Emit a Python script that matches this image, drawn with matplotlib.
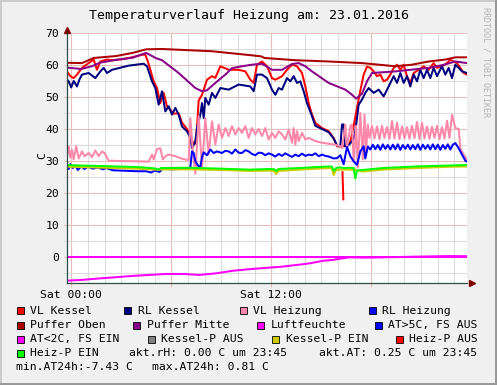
import matplotlib
matplotlib.use("Agg")
import matplotlib.pyplot as plt
from matplotlib.patches import Rectangle

W, H = 497, 385

# hours since Sat 00:00 (window 22.01 23:45 .. 23.01 23:45)
t_vl_kessel = [
    -0.25, -0.05, 0.15, 0.35, 0.65, 1.05, 1.35, 1.55, 1.75, 2.15,
    2.45, 3.05, 3.65, 4.25, 4.45, 4.6, 4.75, 4.95, 5.15, 5.35,
    5.55, 5.75, 5.95, 6.15, 6.45, 6.65, 6.95, 7.15, 7.3, 7.45,
    7.55, 7.65, 7.85, 8.15, 8.45, 8.65, 8.95, 9.45, 10.05, 10.45,
    10.75, 10.95, 11.15, 11.45, 11.75, 12.05, 12.25, 12.65, 12.95, 13.25,
    13.55, 13.85, 14.05, 14.25, 14.45, 14.65, 15.05, 15.45, 15.75, 15.95,
    16.25, 16.55, 16.75, 16.95, 17.15, 17.35, 17.55, 17.75, 17.95, 18.15,
    18.35, 18.55, 18.75, 18.95, 19.15, 19.35, 19.55, 19.75, 19.95, 20.15,
    20.35, 20.55, 20.85, 21.15, 21.45, 21.75, 21.95, 22.25, 22.55, 22.75,
    22.95, 23.15, 23.35, 23.55, 23.75]
vl_kessel = [
    58.0, 56.5, 55.9, 57.0, 59.1, 60.6, 61.7, 58.5, 61.1, 61.7,
    61.5, 61.8, 62.4, 63.2, 63.2, 61.1, 58.5, 54.9, 52.8, 48.1,
    51.3, 47.1, 46.0, 44.8, 44.9, 42.0, 40.0, 38.0, 35.8, 35.4,
    40.3, 48.9, 50.7, 55.4, 56.5, 56.0, 59.6, 58.5, 58.5, 58.0,
    55.4, 54.4, 60.1, 61.1, 59.6, 55.9, 55.4, 56.5, 58.5, 60.1,
    59.6, 57.5, 53.3, 48.1, 44.5, 41.9, 40.3, 39.3, 37.2, 34.6,
    34.6, 34.7, 36.0, 41.0, 46.6, 52.0, 57.0, 59.5, 59.1, 58.0,
    56.5, 57.0, 54.9, 55.4, 57.0, 59.1, 60.1, 58.5, 60.1, 56.5,
    54.4, 57.5, 58.5, 59.6, 58.5, 60.6, 59.1, 59.6, 60.6, 61.7,
    61.1, 60.6, 59.1, 57.5, 57.0]

t_rl_kessel = [
    -0.25, -0.15, 0.0, 0.15, 0.35, 0.5, 0.65, 1.05, 1.45, 1.75,
    1.95, 2.15, 2.45, 3.45, 4.35, 4.55, 4.85, 5.05, 5.25, 5.45,
    5.65, 5.85, 6.05, 6.25, 6.45, 6.65, 6.95, 7.15, 7.25, 7.45,
    7.55, 7.65, 7.75, 7.85, 7.95, 8.05, 8.25, 8.45, 8.65, 8.95,
    9.45, 10.05, 10.75, 10.95, 11.15, 11.45, 11.75, 12.05, 12.25, 12.45,
    12.65, 12.95, 13.15, 13.35, 13.55, 13.75, 13.95, 14.15, 14.45, 14.65,
    15.05, 15.45, 15.75, 15.95, 16.15, 16.25, 16.35, 16.42, 16.55, 16.75,
    16.95, 17.05, 17.25, 17.45, 17.65, 17.85, 18.15, 18.45, 18.75, 19.05,
    19.35, 19.55, 19.75, 19.95, 20.15, 20.35, 20.55, 20.75, 20.95, 21.15,
    21.35, 21.55, 21.75, 21.95, 22.25, 22.45, 22.65, 22.85, 23.05, 23.25,
    23.45, 23.75]
rl_kessel = [
    55.5, 54.9, 53.0, 55.0, 53.3, 55.5, 57.0, 57.5, 55.9, 58.0,
    59.1, 57.5, 58.5, 59.8, 60.4, 59.6, 54.9, 52.8, 47.6, 51.8,
    45.5, 47.1, 44.5, 46.6, 44.5, 40.8, 39.3, 37.2, 34.0, 36.1,
    40.3, 42.4, 44.5, 48.1, 43.4, 49.7, 47.6, 51.3, 49.7, 52.8,
    52.3, 53.9, 53.3, 51.8, 57.0, 57.0, 55.9, 52.3, 50.7, 52.8,
    52.3, 55.9, 54.9, 56.5, 54.4, 54.9, 51.8, 48.1, 44.0, 41.0,
    40.0, 39.0, 37.0, 34.9, 34.5, 41.4, 41.4, 34.6, 34.6, 35.5,
    37.0, 39.3, 47.6, 49.2, 51.3, 52.8, 51.3, 52.3, 50.2, 53.3,
    56.5, 54.4, 57.5, 54.4, 56.5, 53.3, 57.0, 54.9, 58.5, 55.9,
    58.5, 55.9, 59.1, 56.5, 59.6, 57.0, 59.1, 55.9, 60.1, 59.1,
    58.0, 57.5]

t_vl_heizung = [
    -0.25, -0.15, -0.05, 0.05, 0.15, 0.3, 0.45, 0.65, 0.8, 1.05,
    1.25, 1.45, 1.65, 1.85, 2.0, 2.25, 3.0, 4.0, 4.65, 4.85,
    4.95, 5.15, 5.35, 5.5, 5.65, 5.85, 6.25, 6.65, 7.05, 7.15,
    7.3, 7.45, 7.65, 7.85, 8.05, 8.25, 8.45, 8.65, 8.85, 9.05,
    9.25, 9.45, 9.65, 9.85, 10.05, 10.25, 10.45, 10.65, 10.85, 11.05,
    11.25, 11.45, 11.65, 11.85, 12.05, 12.25, 12.45, 12.65, 12.85, 13.05,
    13.25, 13.35, 13.45, 13.55, 13.65, 13.85, 14.05, 14.25, 14.65, 15.05,
    15.45, 15.85, 16.15, 16.25, 16.45, 16.55, 16.75, 16.85, 16.95, 17.1,
    17.2, 17.35, 17.5, 17.6, 17.7, 17.8, 17.9, 18.05, 18.2, 18.35,
    18.5, 18.65, 18.8, 18.95, 19.1, 19.25, 19.4, 19.55, 19.7, 19.85,
    20.0, 20.15, 20.3, 20.45, 20.6, 20.75, 20.9, 21.05, 21.2, 21.35,
    21.5, 21.65, 21.8, 21.95, 22.1, 22.25, 22.4, 22.55, 22.7, 22.85,
    23.05, 23.25, 23.35, 23.55, 23.75]
vl_heizung = [
    31.5, 34.6, 31.0, 33.5, 30.5, 34.6, 30.8, 33.0, 31.5, 32.5,
    31.2, 33.3, 31.5, 33.0, 32.5, 30.1, 30.0, 29.9, 29.8, 32.0,
    30.5, 33.7, 34.0, 30.5, 31.5, 32.0, 31.5, 30.7, 30.3, 43.4,
    33.0, 26.0, 44.0, 27.8, 43.4, 32.0, 42.4, 35.1, 41.4, 37.2,
    40.3, 37.8, 40.9, 38.3, 40.3, 38.8, 40.9, 37.2, 40.3, 38.3,
    40.0, 37.8, 40.3, 36.7, 38.8, 37.2, 39.3, 38.3, 36.7, 39.8,
    35.7, 40.3, 35.1, 39.3, 36.2, 38.8, 36.7, 37.2, 36.2, 35.7,
    35.4, 35.1, 34.6, 34.0, 41.4, 34.0, 40.9, 41.4, 30.0, 41.0,
    28.0, 45.0, 30.5, 44.5, 33.0, 41.4, 37.2, 40.9, 37.0, 40.8,
    36.8, 41.0, 37.2, 40.6, 36.9, 42.5, 37.0, 42.0, 36.8, 40.8,
    37.0, 40.6, 36.9, 41.0, 37.1, 42.2, 36.8, 42.0, 37.0, 40.8,
    36.9, 40.7, 37.2, 41.0, 36.8, 40.6, 37.0, 42.6, 37.2, 44.5,
    40.3, 40.0, 34.0, 32.0, 30.5]

t_rl_heizung = [
    -0.25, -0.15, -0.05, 0.1, 0.25, 0.4, 0.6, 0.8, 1.0, 1.3,
    1.6, 1.9, 2.1, 2.5, 3.0, 3.5, 4.0, 4.5, 4.8, 5.0,
    5.3, 5.5, 6.0, 6.5, 7.0, 7.15, 7.25, 7.35, 7.45, 7.65,
    7.75, 7.85, 7.95, 8.15, 8.35, 8.55, 8.75, 9.05, 9.25, 9.45,
    9.65, 9.85, 10.05, 10.25, 10.45, 10.65, 10.85, 11.05, 11.25, 11.45,
    11.65, 11.85, 12.05, 12.25, 12.45, 12.65, 12.85, 13.05, 13.25, 13.45,
    13.65, 13.85, 14.05, 14.25, 14.45, 14.65, 14.85, 15.05, 15.25, 15.45,
    15.75, 15.95, 16.15, 16.35, 16.55, 16.75, 16.95, 17.15, 17.35, 17.55,
    17.65, 17.8, 17.95, 18.1, 18.25, 18.4, 18.55, 18.7, 18.85, 19.0,
    19.15, 19.3, 19.45, 19.6, 19.75, 19.9, 20.05, 20.2, 20.35, 20.5,
    20.65, 20.8, 20.95, 21.1, 21.25, 21.4, 21.55, 21.7, 21.85, 22.0,
    22.15, 22.3, 22.45, 22.6, 22.75, 22.9, 23.05, 23.25, 23.45, 23.65,
    23.75]
rl_heizung = [
    28.5, 27.5, 29.0, 27.8, 28.6, 27.2, 28.3, 27.5, 28.2, 27.6,
    28.0, 27.4, 27.8, 27.1, 27.0, 26.9, 26.8, 26.8, 26.4, 27.0,
    26.6, 27.6, 27.4, 27.5, 27.6, 28.0, 33.0, 32.5, 29.9, 28.3,
    28.2, 31.2, 32.7, 31.8, 33.6, 32.5, 33.0, 32.5, 33.2, 33.0,
    32.3, 33.6, 32.6, 32.5, 33.4, 33.0, 32.2, 31.8, 32.6, 32.5,
    31.8, 32.4, 32.0, 31.4, 32.2, 31.6, 32.4, 31.8, 31.3, 32.0,
    31.5, 32.3, 31.6, 32.0, 31.8, 32.4, 31.5, 32.0, 31.6, 31.4,
    30.8, 30.9, 31.8, 29.0, 34.4, 31.5, 29.9, 28.8, 33.0, 34.6,
    30.8, 34.5, 33.6, 35.1, 33.7, 35.0, 33.5, 35.2, 33.8, 35.0,
    33.6, 35.1, 33.7, 35.2, 33.5, 35.0, 33.8, 35.1, 33.6, 35.0,
    33.7, 35.2, 33.5, 35.1, 33.8, 35.0, 33.6, 35.2, 33.7, 35.1,
    33.5, 35.0, 33.8, 35.2, 33.6, 35.1, 35.6, 34.0, 32.0, 30.1,
    29.8]

t_puffer_oben = [-0.25, 0.65, 1.35, 2.7, 3.7, 4.5, 5.45, 8.45, 10.7, 11.4,
                 11.6, 13.45, 15.45, 17.45, 19.45, 20.45, 21.45, 22.45, 23.05, 23.75]
puffer_oben = [60.7, 60.6, 62.2, 62.8, 63.8, 64.9, 65.0, 64.3, 63.1, 62.7,
               62.2, 61.5, 61.1, 60.6, 59.6, 60.1, 61.1, 61.7, 62.4, 62.4]

t_puffer_mitte = [-0.25, 0.6, 1.3, 1.7, 2.7, 3.7, 4.5, 5.1, 5.45, 6.45,
                  7.45, 7.85, 8.15, 8.65, 9.25, 9.65, 10.25, 10.85, 11.45, 12.05,
                  12.65, 13.25, 13.65, 14.05, 14.45, 15.45, 16.45, 16.85, 17.1, 17.45,
                  17.75, 18.05, 19.45, 20.7, 21.45, 22.3, 23.05, 23.75]
puffer_mitte = [59.2, 58.75, 59.7, 60.7, 61.6, 62.3, 63.8, 62.1, 61.5, 57.5,
                52.8, 51.8, 52.1, 54.4, 57.0, 59.0, 59.6, 60.1, 60.4, 58.5,
                58.5, 60.3, 60.6, 59.6, 58.0, 54.4, 52.3, 50.7, 49.5, 51.0,
                54.9, 57.5, 58.0, 58.7, 59.1, 60.0, 61.1, 60.6]

t_luftfeuchte = [-0.25, 23.75]
luftfeuchte = [0.0, 0.0]

t_aussen = [-0.25, 0.5, 1.7, 2.7, 3.7, 4.7, 5.7, 6.7, 7.7, 8.7,
            9.7, 10.7, 11.7, 12.7, 13.5, 14.3, 15.1, 15.7, 16.3, 16.7,
            17.7, 18.7, 19.7, 20.7, 21.7, 22.7, 23.75]
aussen = [-7.4, -7.2, -6.7, -6.3, -5.9, -5.6, -5.3, -5.3, -5.6, -5.1,
          -4.3, -3.8, -3.4, -3.0, -2.5, -2.0, -1.2, -0.9, -0.4, -0.1,
          -0.2, -0.1, 0.0, 0.1, 0.2, 0.3, 0.25]

t_kesselp_ein = [-0.25, 2.0, 4.0, 5.0, 7.0, 9.0, 10.7, 11.9, 12.2, 12.3,
                 12.45, 13.7, 14.7, 15.5, 15.65, 15.75, 15.9, 16.2, 17.0, 17.5,
                 18.7, 20.7, 22.7, 23.75]
kesselp_ein = [28.2, 27.9, 27.6, 27.3, 27.4, 27.2, 26.9, 27.0, 26.8, 25.9,
               26.9, 27.3, 27.6, 27.8, 27.6, 25.6, 27.2, 27.3, 27.3, 26.7,
               27.3, 27.8, 28.2, 28.3]

t_heizp_aus = [16.28, 16.33]
heizp_aus = [26.5, 18.0]

t_heizp_ein = [-0.25, 2.0, 4.0, 5.0, 5.2, 5.4, 7.0, 9.0, 10.7, 11.9,
               12.2, 12.3, 12.45, 13.7, 14.7, 15.5, 15.65, 15.75, 15.9, 16.1,
               16.4, 16.7, 16.95, 17.05, 17.15, 17.5, 18.7, 20.7, 22.7, 23.75]
heizp_ein = [28.7, 28.4, 28.1, 27.7, 27.3, 27.8, 27.9, 27.6, 27.3, 27.5,
             27.4, 26.9, 27.5, 27.8, 28.1, 28.3, 28.2, 26.9, 27.8, 28.0,
             27.8, 27.9, 27.8, 24.5, 27.0, 27.2, 27.8, 28.3, 28.6, 28.75]

legend_labels = ['VL Kessel', 'RL Kessel', 'VL Heizung', 'RL Heizung',
                 'Puffer Oben', 'Puffer Mitte', 'Luftfeuchte', 'AT>5C, FS AUS',
                 'AT<2C, FS EIN', 'Kessel-P AUS', 'Kessel-P EIN', 'Heiz-P AUS',
                 'Heiz-P EIN']
legend_colors = ['#FF0000', '#000080', '#FF88AA', '#0000FF',
                 '#AA0000', '#880088', '#FF00FF', '#0000FF',
                 '#FF00FF', '#808080', '#CCCC00', '#FF0000',
                 '#00FF00']

x_ticks = [0, 6, 12, 18]
x_labels = ['Sat 00:00', '', 'Sat 12:00', '']

# layout of the rrdtool legend (pixels)
box_x = [16.7, 124.3, 240, 369, 16.7, 133.3, 257.3, 375,
         16.7, 147.7, 272.3, 395.7, 16.7]
row_y = [310.7] * 4 + [325] * 4 + [339] * 4 + [353]

GRID = '#DCDCDC'
MGRID = '#E8BDBD'
AXIS = '#2C4D43'
ARROW = '#7F0000'
LW = 1.45

plt.rcParams['font.family'] = ['DejaVu Sans Mono']


def fx(x):
    return x / W


def fy(y):
    return 1 - y / H


fig = plt.figure(figsize=(W / 100, H / 100), dpi=100, facecolor='#F0F0F0')

# frame shading
fig.add_artist(Rectangle((0, fy(2)), 1, 2 / H, transform=fig.transFigure,
                         color='#CBCBCB', lw=0))
fig.add_artist(Rectangle((0, 0), 2 / W, 1, transform=fig.transFigure,
                         color='#CBCBCB', lw=0))
fig.add_artist(Rectangle((0, 0), 1, 2 / H, transform=fig.transFigure,
                         color='#999999', lw=0))
fig.add_artist(Rectangle((fx(W - 2), 0), 2 / W, 1, transform=fig.transFigure,
                         color='#999999', lw=0))

ax = fig.add_axes([fx(67), fy(283), 400 / W, 250 / H])
ax.set_facecolor('white')
ax.set_xlim(-0.25, 23.75)
ax.set_ylim(-8.125, 70)

ax.set_xticks(x_ticks)
ax.set_xticklabels(x_labels)
ax.set_xticks([h for h in range(1, 24) if h % 6], minor=True)
ax.set_yticks(range(0, 71, 10))
ax.set_yticks(range(-5, 70, 10), minor=True)
ax.grid(which='minor', color=GRID, lw=0.8)
ax.grid(which='major', color=MGRID, lw=0.8)
ax.set_axisbelow(True)

ax.tick_params(axis='x', which='major', length=3, width=0.8, color=MGRID,
               pad=2, labelsize=8.2)
ax.tick_params(axis='x', which='minor', length=0)
ax.tick_params(axis='y', which='major', length=2, width=0.8, color=MGRID,
               pad=3.5, labelsize=8.2)
ax.tick_params(axis='y', which='minor', length=2, width=0.8, color=GRID)

for s in ['top', 'right']:
    ax.spines[s].set_visible(False)
for s in ['left', 'bottom']:
    ax.spines[s].set_color(AXIS)
    ax.spines[s].set_linewidth(0.9)

ax.plot(t_vl_kessel, vl_kessel, color='#FF0000', lw=LW)
ax.plot(t_rl_kessel, rl_kessel, color='#000080', lw=LW)
ax.plot(t_vl_heizung, vl_heizung, color='#FF88AA', lw=LW)
ax.plot(t_rl_heizung, rl_heizung, color='#0000FF', lw=LW)
ax.plot(t_puffer_oben, puffer_oben, color='#AA0000', lw=LW)
ax.plot(t_puffer_mitte, puffer_mitte, color='#880088', lw=LW)
ax.plot(t_luftfeuchte, luftfeuchte, color='#FF00FF', lw=LW)
ax.plot(t_aussen, aussen, color='#FF00FF', lw=LW)
ax.plot(t_kesselp_ein, kesselp_ein, color='#CCCC00', lw=LW)
ax.plot(t_heizp_aus, heizp_aus, color='#FF0000', lw=LW)
ax.plot(t_heizp_ein, heizp_ein, color='#00FF00', lw=LW)

# axis arrows
ax.plot([0], [1 + 3 / 250], marker='^', ms=4.5, color=ARROW,
        transform=ax.transAxes, clip_on=False)
ax.plot([1 + 5 / 400], [0], marker='>', ms=4.5, color=ARROW,
        transform=ax.transAxes, clip_on=False)

fig.text(fx(249), fy(16), 'Temperaturverlauf Heizung am: 23.01.2016',
         ha='center', va='center', fontsize=9.5)
fig.text(fx(42), fy(156), 'C', rotation=90, ha='center', va='center',
         fontsize=8.2)
fig.text(fx(486), fy(7), 'RRDTOOL / TOBI OETIKER', rotation=270,
         ha='center', va='top', fontsize=6, color='#B4B4B4')

for lab, col, bx, by in zip(legend_labels, legend_colors, box_x, row_y):
    fig.add_artist(Rectangle((fx(bx), fy(by + 3.5)), 7 / W, 7 / H,
                             transform=fig.transFigure, facecolor=col,
                             edgecolor='black', lw=0.6))
    fig.text(fx(bx + 13.5), fy(by), lab, ha='left', va='center', fontsize=8.2)

fig.text(fx(129), fy(353), 'akt.rH: 0.00 C um 23:45', ha='left',
         va='center', fontsize=8.2)
fig.text(fx(319.3), fy(353), 'akt.AT: 0.25 C um 23:45', ha='left',
         va='center', fontsize=8.2)
fig.text(fx(16), fy(367.3), 'min.AT24h:-7.43 C', ha='left', va='center',
         fontsize=8.2)
fig.text(fx(151.7), fy(367.3), 'max.AT24h: 0.81 C', ha='left', va='center',
         fontsize=8.2)

fig.savefig('out.png', dpi=100, facecolor=fig.get_facecolor())
